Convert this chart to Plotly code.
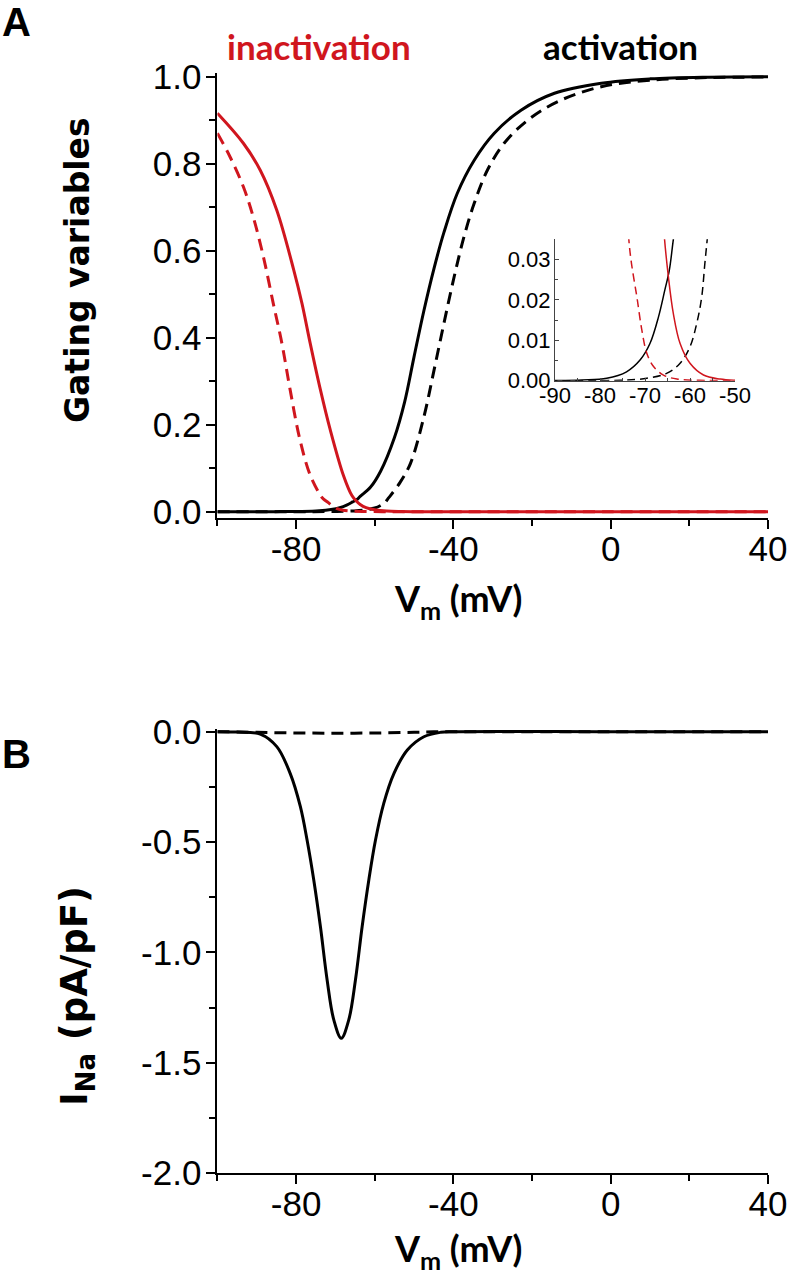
import plotly.graph_objects as go

# ---------------- data ----------------
# Panel A: steady-state gating variables vs membrane potential
act_solid_v = [-100, -90, -84, -78.5, -74.1, -71.1, -68.9, -67.0, -65.6, -64.6, -63.7, -61.1, -58.5,
               -55.0, -52.4, -50.0, -47.5, -44.9, -42.4, -39.0, -34.7, -29.6, -22.8, -14.3, -2.4, 10, 25, 40]
act_solid_y = [0.0, 0.00005, 0.0002, 0.0006, 0.0022, 0.0051, 0.0092, 0.0158, 0.0224, 0.0273, 0.035, 0.056, 0.093,
               0.170, 0.252, 0.356, 0.462, 0.560, 0.642, 0.732, 0.808, 0.870, 0.923, 0.962, 0.985, 0.995, 0.999, 1.0]

act_dash_v = [-100, -85, -75.5, -69.6, -65.2, -62.2, -60.0, -58.5, -57.4, -56.7, -56.0, -53.5, -50.9,
              -47.5, -44.9, -42.4, -39.8, -37.3, -34.7, -31.3, -27.1, -21.1, -13.4, -2.4, 10, 25, 40]
act_dash_y = [0.0, 0.0, 0.0001, 0.0006, 0.0018, 0.0043, 0.0084, 0.0142, 0.0207, 0.029, 0.037, 0.068, 0.111,
              0.218, 0.326, 0.433, 0.540, 0.632, 0.709, 0.786, 0.847, 0.900, 0.943, 0.977, 0.992, 0.998, 0.999]

inact_solid_v = [-100, -93.4, -89.1, -84.9, -80.6, -78.5, -76.4, -73.8, -71.3, -67.9, -65.8, -64.8, -63.7,
                 -62.2, -60.0, -57.0, -53.3, -50.0, -40, 0, 40]
inact_solid_y = [0.916, 0.847, 0.785, 0.693, 0.556, 0.479, 0.387, 0.280, 0.188, 0.082, 0.037, 0.0257, 0.0166,
                 0.0092, 0.0043, 0.0014, 0.0004, 0.0001, 0.0, 0.0, 0.0]

inact_dash_v = [-100, -96.8, -93.4, -90.9, -88.3, -85.8, -83.6, -81.5, -79.0, -76.4, -73.6, -73.0, -71.8,
                -70.7, -69.6, -68.1, -65.9, -62.9, -58.0, -50.0, 0, 40]
inact_dash_y = [0.870, 0.816, 0.747, 0.678, 0.586, 0.479, 0.387, 0.280, 0.165, 0.084, 0.035, 0.029, 0.0207,
                0.0125, 0.0068, 0.0035, 0.0014, 0.0004, 0.0001, 0.0, 0.0, 0.0]

# Panel B: sodium current vs membrane potential
ina_solid_v = [-100, -95, -89.1, -84.9, -81.5, -78.9, -77.2, -75.5, -73.8, -72.1, -70.4, -68.5, -66.6,
               -64.9, -63.2, -61.5, -59.8, -57.7, -55.1, -51.7, -47.5, -43.2, -40, 0, 40]
ina_solid_i = [0.0, -0.002, -0.011, -0.068, -0.189, -0.340, -0.491, -0.672, -0.884, -1.125, -1.306, -1.389, -1.306,
               -1.125, -0.884, -0.672, -0.491, -0.325, -0.189, -0.083, -0.023, -0.003, 0.0, 0.0, 0.0]

ina_dash_v = [-100, -90, -80, -70, -60, -50, -45, 0, 40]
ina_dash_i = [0.0, -0.003, -0.006, -0.007, -0.006, -0.003, -0.001, 0.0, 0.0]

x_ticks_main = [-80, -40, 0, 40]
inset_x_ticks = [-90, -80, -70, -60, -50]
inset_y_ticks = [0.00, 0.01, 0.02, 0.03]

RED = "#d0161e"
BLACK = "#000000"
TICKFONT = dict(family="Liberation Sans, Arial, sans-serif", size=35, color="black")
INSETFONT = dict(family="Liberation Sans, Arial, sans-serif", size=22, color="black")
TITLEFONT = "Lato, Calibri, sans-serif"

fig = go.Figure()

def add_line(x, y, color, dash, width, xa, ya, smooth=1.0):
    fig.add_trace(go.Scatter(
        x=x, y=y, mode="lines", xaxis=xa, yaxis=ya, showlegend=False, hoverinfo="skip",
        line=dict(color=color, width=width, dash=dash, shape="spline", smoothing=smooth)))

MAIN_DASH = "12px,7px"
# Panel A
add_line(act_solid_v, act_solid_y, BLACK, "solid", 3, "x", "y")
add_line(act_dash_v, act_dash_y, BLACK, MAIN_DASH, 3, "x", "y")
add_line(inact_dash_v, inact_dash_y, RED, MAIN_DASH, 3, "x", "y")
add_line(inact_solid_v, inact_solid_y, RED, "solid", 3, "x", "y")
# Inset
INSET_DASH = "8px,5px"
add_line(act_solid_v, act_solid_y, BLACK, "solid", 1.5, "x2", "y2")
add_line(act_dash_v, act_dash_y, BLACK, INSET_DASH, 1.5, "x2", "y2")
add_line(inact_dash_v, inact_dash_y, RED, INSET_DASH, 1.5, "x2", "y2")
add_line(inact_solid_v, inact_solid_y, RED, "solid", 1.5, "x2", "y2")
# Panel B
add_line(ina_solid_v, ina_solid_i, BLACK, "solid", 3, "x3", "y3")
add_line(ina_dash_v, ina_dash_i, BLACK, MAIN_DASH, 3, "x3", "y3")

W, H = 787, 1272
def px(xp):
    return xp / W
def py(yp):
    return 1 - yp / H

main_x = dict(
    range=[-100, 40], showgrid=False, zeroline=False, showline=True, linecolor="black", linewidth=2,
    ticks="outside", ticklen=9, tickwidth=2, tickcolor="black", automargin=False,
    tickvals=x_ticks_main, ticktext=[str(v) for v in x_ticks_main], tickfont=TICKFONT,
    ticklabelstandoff=-10, ticklabeloverflow="allow",
    minor=dict(tickvals=[-100, -60, -20, 20], ticks="outside", ticklen=6, tickwidth=2, tickcolor="black"),
    fixedrange=True,
)

layout = dict(
    width=W, height=H, margin=dict(l=0, r=0, t=0, b=0, autoexpand=False),
    paper_bgcolor="white", plot_bgcolor="white",
    xaxis=dict(main_x, domain=[px(217.4), px(768)], anchor="y"),
    yaxis=dict(range=[-0.0152, 1.0078], domain=[py(518.3), py(73.3)], anchor="x", automargin=False,
               showgrid=False, zeroline=False, showline=True, linecolor="black", linewidth=2,
               ticks="outside", ticklen=9, tickwidth=2, tickcolor="black",
               tickvals=[0, 0.2, 0.4, 0.6, 0.8, 1.0], ticktext=["0.0", "0.2", "0.4", "0.6", "0.8", "1.0"],
               tickfont=TICKFONT, ticklabelstandoff=-2, ticklabeloverflow="allow",
               minor=dict(tickvals=[0.1, 0.3, 0.5, 0.7, 0.9], ticks="outside", ticklen=6, tickwidth=2, tickcolor="black")),
    xaxis2=dict(range=[-90, -50], domain=[px(555), px(735)], anchor="y2", automargin=False,
                showgrid=False, zeroline=False, showline=True, linecolor="#444", linewidth=1,
                ticks="inside", ticklen=3, tickwidth=1, tickcolor="#444",
                tickvals=inset_x_ticks, ticktext=[str(v) for v in inset_x_ticks],
                tickfont=INSETFONT, ticklabelstandoff=-5, ticklabeloverflow="allow",
                minor=dict(tickvals=[-85, -75, -65, -55], ticks="inside", ticklen=3, tickwidth=1, tickcolor="#444")),
    yaxis2=dict(range=[0, 0.035], domain=[py(380.7), py(239.3)], anchor="x2", automargin=False,
                showgrid=False, zeroline=False, showline=True, linecolor="#444", linewidth=1,
                ticks="inside", ticklen=4, tickwidth=1, tickcolor="#444",
                tickvals=inset_y_ticks, ticktext=["%.2f" % v for v in inset_y_ticks],
                tickfont=INSETFONT, ticklabelstandoff=-1, ticklabeloverflow="allow",
                minor=dict(tickvals=[0.005, 0.015, 0.025], ticks="inside", ticklen=3, tickwidth=1, tickcolor="#444")),
    xaxis3=dict(main_x, domain=[px(217.4), px(768)], anchor="y3"),
    yaxis3=dict(range=[-2.0, 0.012], domain=[py(1173.1), py(729.0)], anchor="x3", automargin=False,
                showgrid=False, zeroline=False, showline=True, linecolor="black", linewidth=2,
                ticks="outside", ticklen=9, tickwidth=2, tickcolor="black",
                tickvals=[0, -0.5, -1.0, -1.5, -2.0], ticktext=["0.0", "-0.5", "-1.0", "-1.5", "-2.0"],
                tickfont=TICKFONT, ticklabelstandoff=-2, ticklabeloverflow="allow",
                minor=dict(tickvals=[-0.25, -0.75, -1.25, -1.75], ticks="outside", ticklen=6, tickwidth=2, tickcolor="black")),
)
fig.update_layout(**layout)

def ann(text, xp, yp, size, color="black", family=TITLEFONT, angle=0):
    fig.add_annotation(text=text, x=px(xp), y=py(yp), xref="paper", yref="paper",
                       xanchor="center", yanchor="middle", showarrow=False, textangle=angle,
                       font=dict(family=family, size=size, color=color, weight="bold"))

ann("A", 16, 22, 40, family="Liberation Sans, Arial, sans-serif")
ann("B", 16, 754, 40, family="Liberation Sans, Arial, sans-serif")
ann("inactivation", 319, 46, 35, color=RED)
ann("activation", 620, 46, 35)
ann("Gating variables", 77, 270, 33, family="DejaVu Sans, sans-serif", angle=-90)
ann("I<sub>Na</sub> (pA/pF)", 77, 996, 37, family="DejaVu Sans, sans-serif", angle=-90)
ann("V<sub>m</sub> (mV)", 458, 600, 36)
ann("V<sub>m</sub> (mV)", 458, 1250, 36)

fig.write_html("out.html", config={"displayModeBar": False},
               post_script="document.body.style.margin='0';document.body.style.padding='0';")
